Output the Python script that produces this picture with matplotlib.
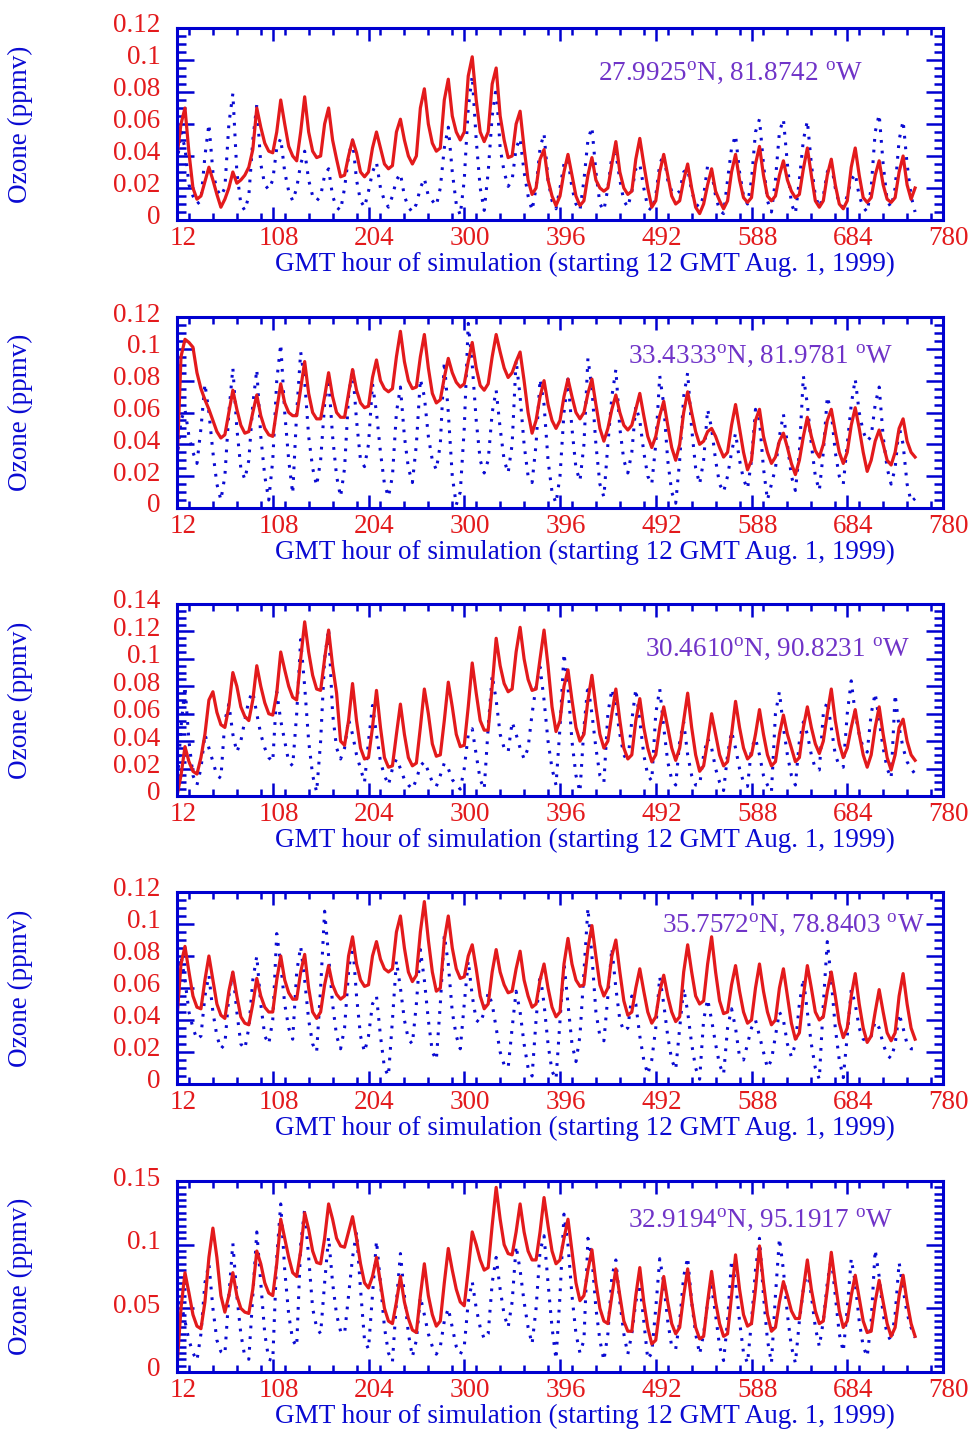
import numpy as np
import matplotlib.pyplot as plt
from matplotlib.ticker import MultipleLocator
from matplotlib.transforms import ScaledTranslation

plt.rcParams['font.family'] = ['Liberation Serif', 'DejaVu Serif']
plt.rcParams['mathtext.fontset'] = 'custom'
plt.rcParams['mathtext.rm'] = 'Liberation Serif'

# Ozone in ppbv, one row per day, samples at 12, 16, 20, 00, 04, 08 GMT
start_hour = 12
step_hours = 4

sites = [
    r'27.9925$^{\rm o}$N, 81.8742 $^{\rm o}$W',
    r'33.4333$^{\rm o}$N, 81.9781 $^{\rm o}$W',
    r'30.4610$^{\rm o}$N, 90.8231 $^{\rm o}$W',
    r'35.7572$^{\rm o}$N, 78.8403 $^{\rm o}$W',
    r'32.9194$^{\rm o}$N, 95.1917 $^{\rm o}$W',
]

model_1 = [
    [40, 60, 70, 42, 20, 13], [15, 24, 33, 25, 16, 8], [13, 20, 30, 23, 25, 28],
    [33, 44, 70, 58, 48, 43], [42, 55, 75, 60, 46, 40], [37, 55, 77, 55, 43, 39],
    [40, 60, 70, 50, 38, 27], [28, 40, 50, 42, 30, 27], [30, 45, 55, 45, 35, 32],
    [34, 55, 63, 50, 40, 35], [40, 70, 82, 60, 48, 43], [45, 75, 88, 65, 55, 50],
    [55, 90, 102, 75, 55, 49], [55, 85, 95, 65, 50, 39], [40, 60, 68, 45, 25, 16],
    [20, 38, 44, 25, 15, 9], [15, 30, 41, 28, 15, 9], [12, 28, 39, 25, 20, 18],
    [20, 35, 49, 30, 20, 16], [18, 38, 51, 35, 20, 8], [12, 30, 41, 28, 15, 10],
    [12, 25, 35, 20, 8, 4], [10, 22, 32, 18, 12, 7], [12, 30, 41, 25, 14, 11],
    [14, 35, 46, 28, 15, 12], [15, 28, 37, 25, 18, 14], [16, 32, 45, 28, 12, 8],
    [12, 28, 38, 22, 10, 7], [12, 33, 45, 28, 14, 11], [14, 28, 37, 22, 13, 11],
    [14, 30, 40, 22, 13, 20],
]
observed_1 = [
    [35, 55, 45, 22, 15, 10], [12, 40, 60, 30, 19, 15], [20, 60, 79, 30, 10, 6],
    [15, 50, 72, 35, 22, 19], [25, 45, 51, 30, 18, 12], [20, 35, 43, 25, 15, 12],
    [15, 28, 32, 15, 8, 6], [20, 40, 50, 25, 12, 8], [18, 30, 36, 20, 12, 8],
    [15, 25, 29, 15, 8, 5], [10, 20, 26, 15, 12, 9], [20, 45, 58, 30, 10, 3],
    [25, 70, 90, 50, 20, 6], [30, 65, 83, 45, 30, 21], [25, 45, 51, 30, 15, 6],
    [20, 45, 54, 25, 12, 7], [20, 35, 38, 20, 10, 6], [25, 50, 58, 30, 10, 6],
    [20, 40, 42, 25, 12, 8], [18, 32, 35, 20, 8, 6], [15, 35, 41, 25, 18, 16],
    [18, 30, 32, 18, 10, 8], [15, 34, 30, 15, 6, 4], [25, 45, 53, 30, 15, 10],
    [25, 55, 63, 35, 12, 5], [25, 55, 63, 35, 10, 4], [25, 50, 62, 35, 15, 8],
    [15, 30, 35, 20, 10, 8], [15, 25, 29, 15, 8, 5], [20, 55, 66, 35, 12, 8],
    [20, 50, 62, 35, 15, 5],
]

model_2 = [
    [26, 95, 106, 104, 101, 85], [75, 68, 62, 55, 48, 44], [46, 60, 74, 62, 52, 47],
    [48, 60, 71, 58, 50, 46], [45, 62, 78, 66, 60, 58], [58, 75, 92, 72, 60, 56],
    [56, 70, 85, 70, 60, 57], [57, 72, 87, 74, 66, 63], [64, 82, 93, 80, 75, 73],
    [75, 95, 111, 92, 80, 75], [76, 95, 109, 88, 72, 66], [68, 82, 94, 85, 79, 76],
    [78, 92, 104, 88, 77, 74], [78, 95, 109, 98, 88, 82], [85, 92, 98, 80, 60, 47],
    [55, 70, 80, 65, 55, 50], [55, 70, 81, 70, 60, 56], [60, 72, 81, 65, 50, 42],
    [50, 62, 71, 60, 52, 49], [52, 62, 72, 58, 45, 38], [45, 58, 67, 52, 38, 30],
    [40, 60, 73, 60, 48, 40], [42, 48, 50, 45, 38, 32], [35, 52, 65, 50, 35, 24],
    [30, 55, 62, 45, 35, 28], [32, 42, 47, 38, 28, 21], [30, 45, 57, 45, 36, 32],
    [40, 55, 62, 48, 35, 28], [35, 52, 63, 50, 35, 23], [30, 42, 49, 40, 30, 27],
    [35, 50, 56, 42, 35, 32],
]
observed_2 = [
    [30, 55, 62, 45, 35, 28], [50, 78, 60, 35, 15, 5], [20, 60, 88, 50, 25, 18],
    [30, 65, 87, 45, 20, 5], [30, 80, 103, 60, 30, 9], [60, 98, 80, 45, 25, 14],
    [30, 65, 81, 45, 20, 7], [25, 70, 88, 55, 30, 26], [40, 78, 60, 35, 15, 7],
    [20, 60, 76, 45, 25, 16], [40, 81, 70, 45, 30, 24], [40, 92, 60, 20, 2, 10],
    [50, 116, 90, 55, 30, 22], [30, 60, 74, 50, 30, 22], [40, 93, 70, 40, 20, 16],
    [40, 81, 65, 30, 10, 3], [20, 60, 81, 50, 25, 17], [40, 94, 75, 40, 15, 7],
    [40, 70, 87, 50, 30, 22], [35, 64, 55, 35, 20, 15], [40, 83, 65, 30, 10, 3],
    [30, 70, 85, 50, 25, 15], [30, 62, 50, 30, 15, 10], [20, 35, 47, 30, 18, 12],
    [30, 62, 55, 25, 5, 15], [25, 45, 59, 40, 20, 11], [35, 83, 65, 40, 20, 11],
    [35, 70, 60, 35, 20, 15], [40, 65, 81, 60, 48, 42], [45, 65, 76, 45, 25, 15],
    [25, 51, 40, 15, 4, 6],
]

model_3 = [
    [0, 15, 36, 25, 18, 16], [28, 45, 70, 76, 61, 52], [50, 65, 90, 80, 65, 58],
    [55, 70, 95, 80, 68, 60], [59, 75, 105, 92, 80, 72], [70, 100, 127, 105, 88, 78],
    [77, 100, 121, 95, 75, 40], [37, 55, 82, 55, 35, 27], [28, 50, 77, 50, 28, 21],
    [22, 45, 67, 45, 28, 22], [24, 50, 78, 60, 38, 29], [30, 55, 83, 65, 45, 36],
    [37, 65, 97, 75, 55, 48], [48, 80, 115, 95, 82, 76], [78, 105, 123, 100, 85, 77],
    [78, 100, 121, 95, 65, 47], [55, 80, 92, 70, 50, 40], [45, 70, 88, 65, 45, 35],
    [40, 60, 78, 55, 35, 27], [30, 55, 71, 50, 35, 25], [30, 50, 65, 50, 35, 26],
    [35, 55, 75, 50, 30, 18], [22, 40, 60, 45, 30, 22], [25, 45, 69, 50, 35, 27],
    [30, 45, 63, 45, 30, 22], [25, 45, 59, 45, 35, 25], [28, 50, 65, 50, 38, 31],
    [40, 60, 78, 55, 38, 28], [35, 50, 63, 45, 30, 21], [30, 50, 65, 45, 28, 19],
    [30, 50, 56, 40, 30, 26],
]
observed_3 = [
    [5, 50, 80, 40, 15, 8], [20, 45, 35, 25, 15, 13], [55, 67, 45, 32, 40, 55],
    [70, 76, 60, 45, 35, 28], [25, 76, 55, 40, 25, 22], [60, 114, 80, 40, 15, 3],
    [40, 100, 122, 60, 35, 27], [35, 56, 45, 30, 20, 10], [40, 66, 45, 25, 15, 8],
    [20, 27, 20, 12, 8, 5], [12, 22, 25, 18, 10, 7], [15, 24, 20, 12, 8, 5],
    [20, 45, 49, 30, 12, 5], [50, 88, 70, 45, 35, 32], [54, 45, 35, 27, 35, 60],
    [80, 94, 70, 40, 20, 8], [50, 104, 80, 40, 15, 3], [50, 81, 60, 35, 15, 10],
    [60, 78, 65, 45, 30, 25], [55, 78, 55, 30, 15, 11], [60, 78, 50, 25, 12, 8],
    [40, 54, 30, 15, 8, 8], [30, 42, 35, 20, 10, 4], [30, 47, 35, 20, 10, 7],
    [35, 42, 30, 15, 8, 3], [60, 76, 50, 30, 15, 8], [40, 54, 45, 30, 20, 19],
    [60, 69, 50, 30, 22, 21], [60, 84, 60, 45, 35, 32], [60, 75, 55, 35, 20, 13],
    [74, 50, 35, 25, 20, 16],
]

model_4 = [
    [41, 75, 86, 70, 55, 48], [47, 65, 80, 65, 50, 43], [41, 58, 70, 55, 42, 38],
    [37, 50, 66, 55, 48, 45], [45, 65, 80, 65, 57, 53], [53, 70, 81, 60, 45, 41],
    [45, 62, 74, 62, 56, 53], [55, 80, 92, 75, 65, 61], [62, 80, 89, 78, 72, 70],
    [72, 95, 105, 85, 70, 64], [68, 95, 114, 90, 70, 58], [60, 90, 105, 85, 72, 66],
    [67, 80, 87, 72, 55, 47], [50, 70, 84, 70, 62, 57], [58, 72, 83, 65, 55, 48],
    [50, 65, 75, 60, 48, 42], [45, 75, 91, 75, 65, 61], [62, 85, 99, 80, 62, 55],
    [60, 80, 90, 70, 52, 43], [45, 60, 72, 58, 45, 38], [42, 58, 68, 55, 45, 39],
    [42, 70, 87, 70, 55, 50], [52, 75, 92, 70, 52, 44], [45, 62, 74, 58, 45, 38],
    [40, 60, 75, 58, 45, 37], [40, 60, 72, 55, 38, 28], [32, 55, 74, 60, 45, 40],
    [42, 58, 70, 55, 38, 29], [35, 55, 69, 50, 35, 26], [30, 45, 59, 45, 32, 27],
    [32, 55, 69, 50, 35, 28],
]
observed_4 = [
    [55, 80, 65, 45, 35, 28], [30, 55, 68, 45, 30, 22], [25, 55, 70, 45, 25, 22],
    [35, 65, 80, 50, 30, 25], [40, 94, 75, 50, 35, 28], [70, 86, 65, 40, 25, 20],
    [60, 108, 80, 50, 30, 22], [35, 70, 89, 55, 30, 20], [30, 50, 55, 30, 10, 5],
    [40, 77, 60, 40, 28, 25], [50, 84, 65, 40, 20, 15], [50, 93, 75, 45, 30, 22],
    [50, 77, 55, 40, 38, 45], [57, 50, 35, 20, 12, 10], [35, 58, 45, 25, 10, 5],
    [40, 69, 50, 25, 8, 3], [40, 76, 50, 25, 14, 30], [70, 110, 80, 45, 30, 27],
    [55, 85, 60, 40, 33, 35], [55, 50, 30, 15, 6, 15], [35, 67, 50, 30, 15, 9],
    [35, 60, 45, 25, 10, 3], [40, 53, 40, 25, 12, 6], [35, 47, 35, 17, 15, 25],
    [35, 40, 30, 20, 10, 15], [30, 45, 40, 25, 17, 25], [50, 66, 45, 25, 10, 3],
    [50, 89, 65, 35, 15, 4], [30, 59, 50, 35, 28, 27], [30, 39, 35, 25, 18, 16],
    [25, 44, 35, 25, 22, 22],
]

model_5 = [
    [4, 50, 78, 62, 45, 36], [34, 55, 90, 113, 90, 60], [47, 60, 78, 60, 50, 47],
    [46, 65, 95, 85, 70, 62], [60, 85, 120, 105, 90, 78], [75, 95, 125, 112, 95, 86],
    [85, 105, 132, 120, 105, 99], [98, 110, 122, 105, 85, 70], [66, 75, 90, 70, 50, 40],
    [38, 55, 75, 55, 42, 33], [31, 60, 85, 60, 45, 36], [40, 70, 97, 80, 65, 55],
    [52, 80, 110, 100, 88, 80], [82, 115, 145, 120, 100, 93], [92, 110, 132, 110, 95, 88],
    [88, 110, 137, 115, 95, 85], [88, 105, 120, 95, 70, 56], [60, 80, 96, 70, 50, 40],
    [38, 60, 81, 60, 40, 32], [32, 60, 82, 55, 35, 22], [25, 50, 75, 55, 38, 30],
    [35, 60, 81, 55, 35, 26], [28, 55, 79, 55, 38, 28], [30, 60, 92, 65, 45, 36],
    [38, 65, 99, 70, 45, 32], [35, 55, 71, 60, 48, 42], [42, 65, 88, 65, 48, 38],
    [40, 65, 94, 70, 48, 35], [40, 60, 76, 58, 40, 31], [32, 55, 72, 55, 38, 28],
    [35, 60, 76, 55, 38, 28],
]
observed_5 = [
    [45, 54, 40, 25, 15, 9], [30, 70, 85, 50, 25, 16], [14, 60, 101, 60, 30, 12],
    [10, 60, 110, 70, 30, 10], [9, 90, 132, 80, 45, 25], [20, 100, 128, 90, 50, 35],
    [30, 70, 106, 70, 45, 32], [30, 60, 90, 110, 65, 25], [18, 60, 103, 70, 35, 15],
    [8, 55, 93, 60, 30, 12], [25, 59, 45, 30, 20, 14], [20, 40, 50, 35, 20, 14],
    [20, 55, 71, 50, 35, 26], [30, 70, 90, 65, 45, 35], [55, 99, 80, 55, 35, 22],
    [50, 95, 107, 70, 35, 10], [60, 124, 100, 60, 30, 15], [25, 105, 90, 50, 25, 9],
    [30, 75, 88, 55, 30, 14], [30, 55, 69, 40, 10, 15], [50, 89, 70, 40, 20, 18],
    [40, 75, 90, 55, 30, 14], [30, 55, 67, 45, 20, 9], [40, 88, 70, 40, 15, 7],
    [40, 80, 105, 60, 25, 7], [60, 105, 80, 45, 20, 7], [40, 65, 80, 60, 35, 20],
    [40, 70, 90, 60, 30, 16], [50, 89, 70, 40, 20, 12], [40, 96, 75, 45, 30, 24],
    [45, 86, 65, 46, 35, 27],
]

models = [model_1, model_2, model_3, model_4, model_5]
observations = [observed_1, observed_2, observed_3, observed_4, observed_5]
y_max = [0.12, 0.12, 0.14, 0.12, 0.15]
y_major = [0.02, 0.02, 0.02, 0.02, 0.05]
y_minor = [0.005, 0.005, 0.005, 0.005, 0.005]

# panel layout in pixels (top, bottom) and site label position in axes fraction
panel_px = [(28, 220), (317, 508), (604, 796), (892, 1084), (1181, 1372)]
label_pos = [(0.722, 0.766), (0.762, 0.796), (0.784, 0.766), (0.805, 0.828), (0.762, 0.80)]

RED = '#e31a1c'
BLUE = '#0a0ad2'
AXBLUE = '#0000d0'
PURPLE = '#7034c8'
FS = 19.5

W, H = 974, 1431
fig = plt.figure(figsize=(W / 100, H / 100), dpi=100)
left, right = 177, 943

up = ScaledTranslation(0, 5 / 100, fig.dpi_scale_trans)
shift_right = ScaledTranslation(6 / 100, 0, fig.dpi_scale_trans)

for i in range(5):
    top, bot = panel_px[i]
    ax = fig.add_axes([left / W, 1 - bot / H, (right - left) / W, (bot - top) / H])

    model = np.ravel(models[i]) / 1000.0
    obs = np.ravel(observations[i]) / 1000.0
    hours = start_hour + step_hours * np.arange(model.size)

    ax.plot(hours, obs, color=BLUE, lw=2.2, ls=(0, (0.9, 2.6)))
    ax.plot(hours, model, color=RED, lw=2.3)

    ax.set_xlim(12, 780)
    ax.set_ylim(0, y_max[i])
    ax.xaxis.set_minor_locator(MultipleLocator(24))
    ax.yaxis.set_minor_locator(MultipleLocator(y_minor[i]))
    ax.set_xticks(np.arange(12, 781, 96))
    ax.set_xticklabels([str(t) for t in range(12, 781, 96)])
    yt = np.arange(0, y_max[i] + 1e-9, y_major[i])
    ax.set_yticks(yt)
    ax.set_yticklabels(['0'] + ['%g' % v for v in yt[1:]])

    for s in ax.spines.values():
        s.set_color(AXBLUE)
        s.set_linewidth(2.2)
    ax.tick_params(axis='both', which='both', direction='in', color=AXBLUE,
                   top=True, right=True, labelcolor=RED, labelsize=FS)
    ax.tick_params(axis='x', which='major', length=9.5, width=1.8, pad=4)
    ax.tick_params(axis='x', which='minor', length=5, width=1.8)
    ax.tick_params(axis='y', which='major', length=12, width=1.8, pad=12)
    ax.tick_params(axis='y', which='minor', length=6.5, width=1.8)
    for lab in ax.get_yticklabels():
        lab.set_transform(lab.get_transform() + up)
    for lab in ax.get_xticklabels():
        lab.set_transform(lab.get_transform() + shift_right)

    ax.text(0.533, -0.234, 'GMT hour of simulation (starting 12 GMT Aug. 1, 1999)',
            transform=ax.transAxes, ha='center', va='center', color=BLUE, fontsize=FS)
    ax.text(-0.205, 0.5, 'Ozone (ppmv)', transform=ax.transAxes, rotation=90,
            ha='center', va='center', color=BLUE, fontsize=FS)
    ax.text(label_pos[i][0], label_pos[i][1], sites[i], transform=ax.transAxes,
            ha='center', va='center', color=PURPLE, fontsize=FS)

fig.savefig('out.png', dpi=100)
